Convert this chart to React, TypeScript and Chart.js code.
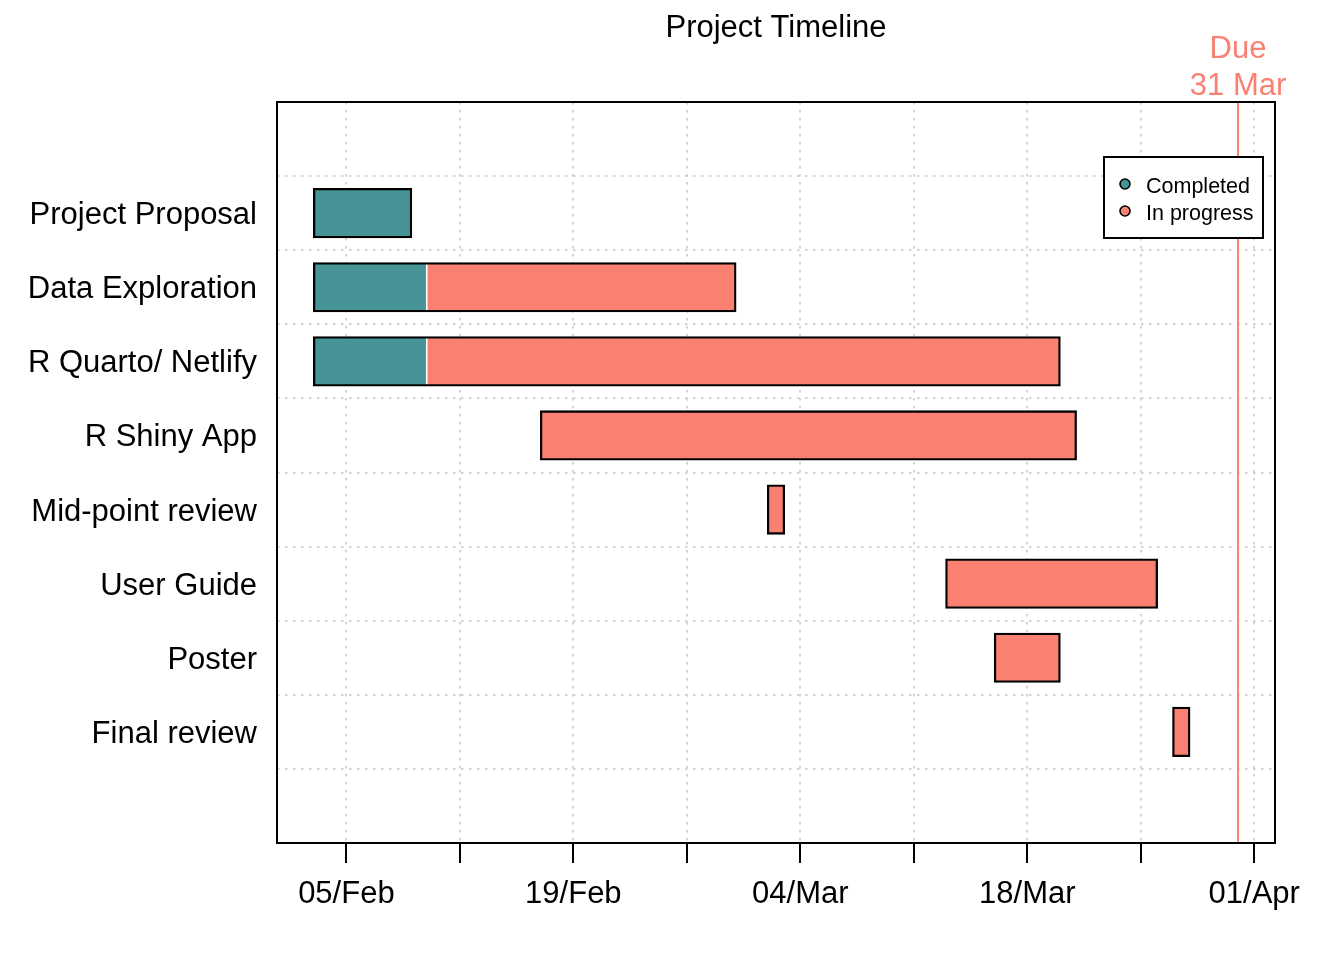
import React, { useEffect, useRef } from "react";
import { Chart, registerables } from "chart.js";

Chart.register(...registerables);

const chartTitle = "Project Timeline";
const tasks = [
  "Project Proposal",
  "Data Exploration",
  "R Quarto/ Netlify",
  "R Shiny App",
  "Mid-point review",
  "User Guide",
  "Poster",
  "Final review",
];
const completedStart = ["2024-02-03", "2024-02-03", "2024-02-03", null, null, null, null, null];
const completedEnd = ["2024-02-09", "2024-02-10", "2024-02-10", null, null, null, null, null];
const progressStart = [null, "2024-02-10", "2024-02-10", "2024-02-17", "2024-03-02", "2024-03-13", "2024-03-16", "2024-03-27"];
const progressEnd = [null, "2024-02-29", "2024-03-20", "2024-03-21", "2024-03-03", "2024-03-26", "2024-03-20", "2024-03-28"];
const tickDates = [
  "2024-02-05", "2024-02-12", "2024-02-19", "2024-02-26", "2024-03-04",
  "2024-03-11", "2024-03-18", "2024-03-25", "2024-04-01",
];
const tickLabels = ["05/Feb", "", "19/Feb", "", "04/Mar", "", "18/Mar", "", "01/Apr"];
const seriesLabels = ["Completed", "In progress"];
const dueDate = "2024-03-31";
const dueLabel = ["Due", "31 Mar"];
const rangeStart = "2024-02-03";

const TEAL = "#469496";
const SALMON = "#FA8072";
const GRID = "#D3D3D3";
const FONT = '"Liberation Sans", Arial, sans-serif';

const day = (s: string) =>
  Date.UTC(+s.slice(0, 4), +s.slice(5, 7) - 1, +s.slice(8, 10)) / 86400000;

export default function App() {
  const ref = useRef<HTMLCanvasElement | null>(null);

  useEffect(() => {
    if (!ref.current) return;
    const r0 = day(rangeStart);
    const r1 = day(dueDate);
    const pad = (r1 - r0) * 0.04;

    const labels = ["", ...tasks, ""];
    const wrap = (arr: any[]) => [null, ...arr, null];

    const completedData = wrap(
      tasks.map((_, i) =>
        completedStart[i] ? [day(completedStart[i] as string), day(completedEnd[i] as string)] : null
      )
    );
    const progressData = wrap(
      tasks.map((_, i) =>
        progressStart[i] ? [day(progressStart[i] as string), day(progressEnd[i] as string)] : null
      )
    );
    const outlineData = wrap(
      tasks.map((_, i) => {
        const s = completedStart[i] ?? progressStart[i];
        const e = progressEnd[i] ?? completedEnd[i];
        return [day(s as string), day(e as string)];
      })
    );
    const completedBorder = wrap(
      tasks.map((_, i) =>
        completedStart[i] && progressStart[i]
          ? { top: 0, bottom: 0, left: 0, right: 1.5 }
          : 0
      )
    ).map((v) => (v === null ? 0 : v));

    const overlay = {
      id: "overlay",
      beforeDatasetsDraw(chart: any) {
        const { ctx, chartArea } = chart;
        const x = chart.scales.x.getPixelForValue(day(dueDate));
        ctx.save();
        ctx.strokeStyle = SALMON;
        ctx.lineWidth = 2;
        ctx.beginPath();
        ctx.moveTo(x, chartArea.top);
        ctx.lineTo(x, chartArea.bottom);
        ctx.stroke();
        ctx.restore();
      },
      afterDraw(chart: any) {
        const { ctx, chartArea } = chart;
        const xs = chart.scales.x;
        ctx.save();
        // plot box
        ctx.strokeStyle = "#000";
        ctx.lineWidth = 2;
        ctx.strokeRect(chartArea.left, chartArea.top, chartArea.right - chartArea.left, chartArea.bottom - chartArea.top);

        // legend
        const lx = chartArea.right - 12 - 159;
        const ly = chartArea.top + 55;
        ctx.fillStyle = "#fff";
        ctx.fillRect(lx, ly, 159, 81);
        ctx.strokeRect(lx, ly, 159, 81);
        const cols = [TEAL, SALMON];
        ctx.font = "21.5px " + FONT;
        ctx.textAlign = "left";
        ctx.textBaseline = "alphabetic";
        seriesLabels.forEach((lab, i) => {
          const cy = ly + 27 + i * 27;
          ctx.beginPath();
          ctx.arc(lx + 21, cy, 5, 0, Math.PI * 2);
          ctx.fillStyle = cols[i];
          ctx.fill();
          ctx.lineWidth = 1.6;
          ctx.strokeStyle = "#000";
          ctx.stroke();
          ctx.fillStyle = "#000";
          ctx.fillText(lab, lx + 42, cy + 8.5);
        });

        // title
        ctx.font = "31px " + FONT;
        ctx.textAlign = "center";
        ctx.fillStyle = "#000";
        ctx.fillText(chartTitle, (chartArea.left + chartArea.right) / 2, 37);

        // due text
        const dx = xs.getPixelForValue(day(dueDate));
        ctx.fillStyle = SALMON;
        ctx.fillText(dueLabel[0], dx, 58);
        ctx.fillText(dueLabel[1], dx, 95);
        ctx.restore();
      },
    };

    const common = {
      grouped: false,
      barPercentage: 0.65,
      categoryPercentage: 1,
      borderSkipped: false,
    };

    const chart = new Chart(ref.current, {
      type: "bar",
      data: {
        labels,
        datasets: [
          {
            ...common,
            label: "outline",
            data: outlineData,
            backgroundColor: "rgba(0,0,0,0)",
            borderColor: "#000",
            borderWidth: 0.3,
            inflateAmount: 1,
            order: 0,
          },
          {
            ...common,
            label: seriesLabels[0],
            data: completedData,
            backgroundColor: TEAL,
            borderColor: "#fff",
            borderWidth: completedBorder,
            inflateAmount: 0,
            order: 1,
          },
          {
            ...common,
            label: seriesLabels[1],
            data: progressData,
            backgroundColor: SALMON,
            borderWidth: 0,
            inflateAmount: 0,
            order: 2,
          },
        ],
      } as any,
      options: {
        indexAxis: "y",
        responsive: false,
        animation: false,
        devicePixelRatio: 1,
        events: [],
        layout: { padding: { top: 102, right: 69, bottom: 0, left: 0 } },
        plugins: {
          legend: { display: false },
          title: { display: false },
          tooltip: { enabled: false },
        },
        scales: {
          x: {
            type: "linear",
            position: "bottom",
            min: r0 - pad,
            max: r1 + pad,
            afterFit: (s: any) => {
              s.height = 117;
            },
            afterBuildTicks: (s: any) => {
              s.ticks = tickDates.map((d) => ({ value: day(d) }));
            },
            ticks: {
              autoSkip: false,
              maxRotation: 0,
              minRotation: 0,
              padding: 13,
              color: "#000",
              font: { family: FONT, size: 31 },
              callback: (_v: any, i: number) => tickLabels[i],
            },
            grid: {
              color: GRID,
              lineWidth: 2,
              drawTicks: true,
              tickLength: 20,
              tickColor: "#000",
              tickWidth: 2,
              tickBorderDash: [],
            },
            border: { display: false, dash: [2.5, 5.5] },
          },
          y: {
            type: "category",
            position: "left",
            offset: true,
            afterFit: (s: any) => {
              s.width = 277;
            },
            ticks: {
              autoSkip: false,
              padding: 20,
              labelOffset: 2.5,
              color: "#000",
              font: { family: FONT, size: 31 },
            },
            grid: {
              offset: true,
              color: GRID,
              lineWidth: 2,
              drawTicks: false,
            },
            border: { display: false, dash: [2.5, 5.5] },
          },
        },
      } as any,
      plugins: [overlay as any],
    });
    return () => chart.destroy();
  }, []);

  return (
    <div style={{ position: "fixed", left: 0, top: 0, width: 1344, height: 960, background: "#fff" }}>
      <canvas ref={ref} width={1344} height={960} style={{ width: 1344, height: 960 }} />
    </div>
  );
}
